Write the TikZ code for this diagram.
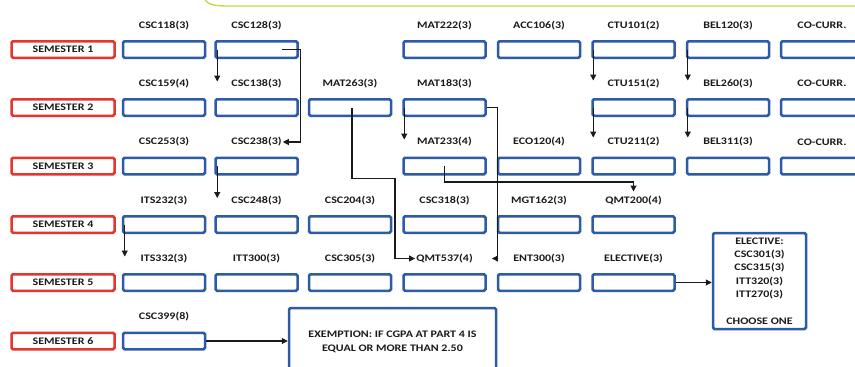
\documentclass[tikz,border=0pt]{standalone}
\usepackage{fontspec}
\newfontfamily\labfont[FakeStretch=1.2]{Carlito}
\usetikzlibrary{arrows.meta,calc}
\definecolor{bbox}{HTML}{2E5BA6}
\definecolor{rbox}{HTML}{E5352F}
\definecolor{ink}{HTML}{1A1A1A}
\definecolor{gline}{HTML}{C8D850}
\tikzset{
  course/.style={draw=bbox, line width=2.5pt, fill=white, rounded corners=1.5pt,
    minimum width=82pt, minimum height=16.5pt, inner sep=0pt},
  sem/.style={draw=rbox, line width=2.5pt, fill=white, rounded corners=1.5pt,
    minimum width=103pt, minimum height=16.5pt, inner sep=0pt, text=ink,
    font=\labfont\bfseries\fontsize{10}{12}\selectfont},
  lab/.style={font=\labfont\bfseries\fontsize{10}{12}\selectfont, text=ink, inner sep=1pt},
  arr/.style={draw=ink, line width=1.1pt, -{Triangle[length=6pt,width=6pt]}}
}
\newcommand\crs[4]{\node[course] (#1) at (#2,#3) {};\node[lab] (l#1) at (#2,#3-24) {#4};}
\begin{document}
\begin{tikzpicture}[x=1pt,y=-1pt]
\path[use as bounding box, clip] (0,0) rectangle (855,367);
\fill[white] (0,0) rectangle (855,367);
\draw[gline, line width=1.4pt] (204,-3) .. controls (206,4) and (212,6) .. (228,6) -- (860,6);
% semester labels
\node[sem] (s1) at (63,49.5) {SEMESTER 1};
\node[sem] (s2) at (63,107.5) {SEMESTER 2};
\node[sem] (s3) at (63,166) {SEMESTER 3};
\node[sem] (s4) at (63,224.5) {SEMESTER 4};
\node[sem] (s5) at (63,282.5) {SEMESTER 5};
\node[sem] (s6) at (63,341) {SEMESTER 6};
% row 1
\crs{r1c1}{164}{49.5}{CSC118(3)}
\crs{r1c2}{256.5}{49.5}{CSC128(3)}
\crs{r1c4}{444.5}{49.5}{MAT222(3)}
\crs{r1c5}{539}{49.5}{ACC106(3)}
\crs{r1c6}{633.5}{49.5}{CTU101(2)}
\crs{r1c7}{728}{49.5}{BEL120(3)}
\crs{r1c8}{822}{49.5}{CO-CURR.}
% row 2
\crs{r2c1}{164}{107.5}{CSC159(4)}
\crs{r2c2}{256.5}{107.5}{CSC138(3)}
\crs{r2c3}{350}{107.5}{MAT263(3)}
\crs{r2c4}{444.5}{107.5}{MAT183(3)}
\crs{r2c6}{633.5}{107.5}{CTU151(2)}
\crs{r2c7}{728}{107.5}{BEL260(3)}
\crs{r2c8}{822}{107.5}{CO-CURR.}
% row 3
\crs{r3c1}{164}{166}{CSC253(3)}
\crs{r3c2}{256.5}{166}{CSC238(3)}
\crs{r3c4}{444.5}{166}{MAT233(4)}
\crs{r3c5}{539}{166}{ECO120(4)}
\crs{r3c6}{633.5}{166}{CTU211(2)}
\crs{r3c7}{728}{166}{BEL311(3)}
\crs{r3c8}{822}{166}{CO-CURR.}
% row 4
\crs{r4c1}{164}{224.5}{ITS232(3)}
\crs{r4c2}{256.5}{224.5}{CSC248(3)}
\crs{r4c3}{350}{224.5}{CSC204(3)}
\crs{r4c4}{444.5}{224.5}{CSC318(3)}
\crs{r4c5}{539}{224.5}{MGT162(3)}
\crs{r4c6}{633.5}{224.5}{QMT200(4)}
% row 5
\crs{r5c1}{164}{282.5}{ITS332(3)}
\crs{r5c2}{256.5}{282.5}{ITT300(3)}
\crs{r5c3}{350}{282.5}{CSC305(3)}
\crs{r5c4}{444.5}{282.5}{QMT537(4)}
\crs{r5c5}{539}{282.5}{ENT300(3)}
\crs{r5c6}{633.5}{282.5}{ELECTIVE(3)}
% row 6
\crs{r6c1}{164}{341}{CSC399(8)}
% elective list
\node[course, minimum width=93pt, minimum height=96pt, align=center, text=ink,
  font=\labfont\bfseries\fontsize{10}{13.3}\selectfont] (elec) at (759.5,281)
  {ELECTIVE:\\CSC301(3)\\CSC315(3)\\ITT320(3)\\ITT270(3)\\[13.3pt]CHOOSE ONE};
% exemption
\node[course, minimum width=207pt, minimum height=90pt] (exem) at (392.5,353) {};
\node[lab, align=center, font=\labfont\bfseries\fontsize{10}{14}\selectfont] (exemt) at (392.5,342)
  {EXEMPTION: IF CGPA AT PART 4 IS\\EQUAL OR MORE THAN 2.50};
% connectors
\draw[arr] ($(r1c2.west)+(3,0)$) -- ++(0,32);
\draw[arr] ($(r1c2.east)+(-17,0)$) -- ($(r1c2.east)+(2,0)$) |- (lr3c2.east);
\draw[arr] ($(r2c3.center)+(2,0)$) -- ++(0,71) -- ++(43,0) |- (lr5c4.west);
\draw[arr] ($(r2c4.west)+(2,0)$) -- ++(0,32);
\draw[arr] (r2c4.east) -- ++(11,0) |- ($(lr5c4.east)+(18,0)$);
\draw[arr] (r3c4.center) -- ++(0,16) -| ($(r4c6.center)+(0,-33)$);
\draw[arr] ($(r1c6.west)+(2,0)$) -- ++(0,31);
\draw[arr] ($(r1c7.west)+(2,0)$) -- ++(0,31);
\draw[arr] ($(r2c6.west)+(2,0)$) -- ++(0,30);
\draw[arr] ($(r2c7.west)+(2,0)$) -- ++(0,30);
\draw[arr] ($(r3c2.west)+(3,0)$) -- ++(0,32);
\draw[arr] ($(r4c1.west)+(3,0)$) -- ++(0,32);
\draw[arr] (r5c6.east) -- (r5c6.east -| elec.west);
\draw[arr] (r6c1.east) -- (r6c1.east -| exem.west);
\end{tikzpicture}
\end{document}
